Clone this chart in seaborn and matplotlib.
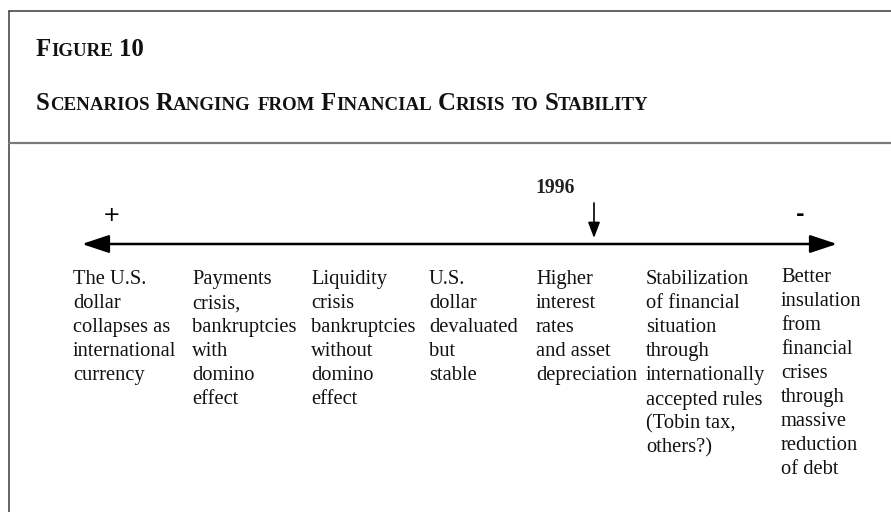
import itertools
import matplotlib
matplotlib.use("Agg")
import matplotlib.pyplot as plt
import seaborn as sns

# DATA
figure_label = "Figure 10"
figure_title = "Scenarios Ranging from Financial Crisis to Stability"
scenarios = [
    "The U.S.\ndollar\ncollapses as\ninternational\ncurrency",
    "Payments\ncrisis,\nbankruptcies\nwith\ndomino\neffect",
    "Liquidity\ncrisis\nbankruptcies\nwithout\ndomino\neffect",
    "U.S.\ndollar\ndevaluated\nbut\nstable",
    "Higher\ninterest\nrates\nand asset\ndepreciation",
    "Stabilization\nof financial\nsituation\nthrough\ninternationally\naccepted rules\n(Tobin tax,\nothers?)",
    "Better\ninsulation\nfrom\nfinancial\ncrises\nthrough\nmassive\nreduction\nof debt",
]
end_signs = ["+", "-"]
marker_label = "1996"
marker_index = 4

# LAYOUT (pixels)
col_x = [73, 192, 311, 429, 536, 646, 781]
col_dy = [0, 0, 0, 0, 0, 0, -2.5]
first_baseline = 284
line_step = 24.1
axis_y = 244
axis_x = (82, 837)

sns.set_theme(style="white")
plt.rcParams["font.family"] = ["Liberation Serif", "DejaVu Serif"]

fig = plt.figure(figsize=(8.91, 5.12), dpi=100)
ax = fig.add_axes([0, 0, 1, 1])
ax.set_xlim(0, 891)
ax.set_ylim(512, 0)
ax.axis("off")
r = fig.canvas.get_renderer()

# frame
ax.plot([9, 891], [11, 11], color="#3a3a3a", lw=1.1)
ax.plot([9, 9], [11, 512], color="#3a3a3a", lw=1.1)
ax.plot([9, 891], [142.5, 142.5], color="#7a7a7a", lw=1.6)

TITLE_KW = dict(fontweight="bold", color="#111111", family=["Liberation Serif"])


def draw_caps(x, y, text, big, small):
    def width(s, size):
        t = ax.text(0, 0, s, fontsize=size, **TITLE_KW)
        w = t.get_window_extent(r).width
        t.remove()
        return w

    gap = width("n n", big) - width("nn", big)
    for word in text.split(" "):
        for low, chars in itertools.groupby(word, key=lambda c: c.islower()):
            s = "".join(chars)
            t = ax.text(x, y, s.upper(), fontsize=small if low else big,
                        va="baseline", ha="left", **TITLE_KW)
            x += t.get_window_extent(r).width
        x += gap


draw_caps(36, 56, figure_label, 17.8, 13.6)
draw_caps(36, 110, figure_title, 17.8, 13.6)

# main double arrow
ax.annotate("", xy=(axis_x[1], axis_y), xytext=(axis_x[0], axis_y),
            arrowprops=dict(arrowstyle="<|-|>,head_length=1.65,head_width=0.55",
                            mutation_scale=10, color="black", lw=1.8,
                            shrinkA=0, shrinkB=0))

ax.text(112, 215, end_signs[0], fontsize=15, ha="center", va="center",
        family=["DejaVu Sans"], color="black")
ax.text(800, 215, end_signs[1], fontsize=15, ha="center", va="center",
        fontweight="bold", family=["DejaVu Sans"], color="black")

# 1996 marker
mx = 594
ax.annotate("", xy=(mx, 238), xytext=(mx, 203),
            arrowprops=dict(arrowstyle="-|>,head_length=0.95,head_width=0.36",
                            mutation_scale=10, color="black", lw=1.2,
                            shrinkA=0, shrinkB=0))
ax.text(555, 193, marker_label, fontsize=14.2, fontweight="bold", ha="center",
        va="baseline", color="#222222")

# scenario columns
for x, dy, label in zip(col_x, col_dy, scenarios):
    for i, line in enumerate(label.split("\n")):
        ax.text(x, first_baseline + dy + i * line_step, line, fontsize=14.8,
                ha="left", va="baseline", color="#111111")

fig.savefig("out.png", dpi=100)
